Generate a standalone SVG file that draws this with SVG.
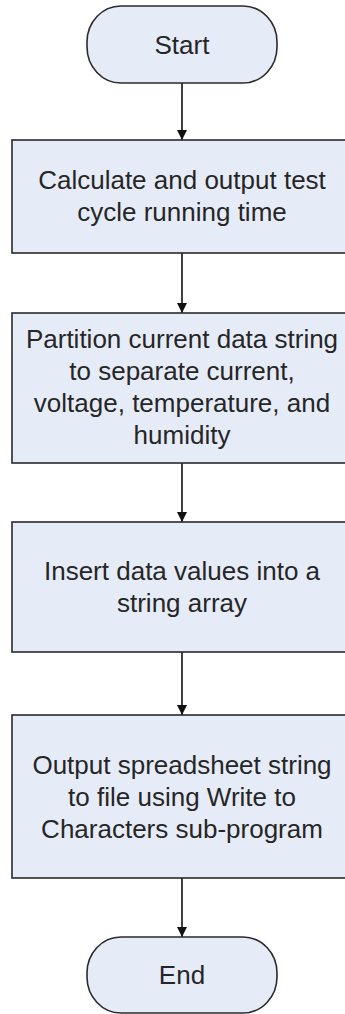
<svg xmlns="http://www.w3.org/2000/svg" width="345" height="1014" viewBox="0 0 345 1014">
<style>
.shape{fill:#e6ecf7;stroke:#2a2a2a;stroke-width:1.6}
.t{font-family:"Liberation Sans",Arial,sans-serif;font-size:26px;fill:#262626;text-anchor:middle}
.c{stroke:#111;stroke-width:1.6;fill:none;marker-end:url(#ah)}
</style>
<defs>
<marker id="ah" viewBox="0 0 10 10" refX="10" refY="5" markerWidth="10" markerHeight="10" markerUnits="userSpaceOnUse" orient="auto">
<path d="M0,0 L10,5 L0,10 Z" fill="#111"/>
</marker>
</defs>
<rect width="345" height="1014" fill="#fff"/>
<g id="connectors">
<line class="c" x1="182" y1="83" x2="182" y2="140"/>
<line class="c" x1="182" y1="253" x2="182" y2="313"/>
<line class="c" x1="182" y1="463" x2="182" y2="522"/>
<line class="c" x1="182" y1="652" x2="182" y2="715"/>
<line class="c" x1="182" y1="878" x2="182" y2="937"/>
</g>
<g id="start">
<rect class="shape" x="87" y="6" width="190" height="77" rx="34" ry="36"/>
<text class="t" x="182" y="54">Start</text>
</g>
<g id="calc">
<rect class="shape" x="12" y="140" width="345" height="113"/>
<text class="t" x="182" y="189">Calculate and output test</text>
<text class="t" x="182" y="221">cycle running time</text>
</g>
<g id="partition">
<rect class="shape" x="12" y="313" width="345" height="150"/>
<text class="t" x="182" y="348">Partition current data string</text>
<text class="t" x="182" y="380">to separate current,</text>
<text class="t" x="182" y="412">voltage, temperature, and</text>
<text class="t" x="182" y="444">humidity</text>
</g>
<g id="insert">
<rect class="shape" x="12" y="522" width="345" height="130"/>
<text class="t" x="182" y="580">Insert data values into a</text>
<text class="t" x="182" y="612">string array</text>
</g>
<g id="output">
<rect class="shape" x="12" y="715" width="345" height="163"/>
<text class="t" x="182" y="774">Output spreadsheet string</text>
<text class="t" x="182" y="806">to file using Write to</text>
<text class="t" x="182" y="838">Characters sub-program</text>
</g>
<g id="end">
<rect class="shape" x="87" y="937" width="190" height="76" rx="34" ry="36"/>
<text class="t" x="182" y="984">End</text>
</g>
</svg>
